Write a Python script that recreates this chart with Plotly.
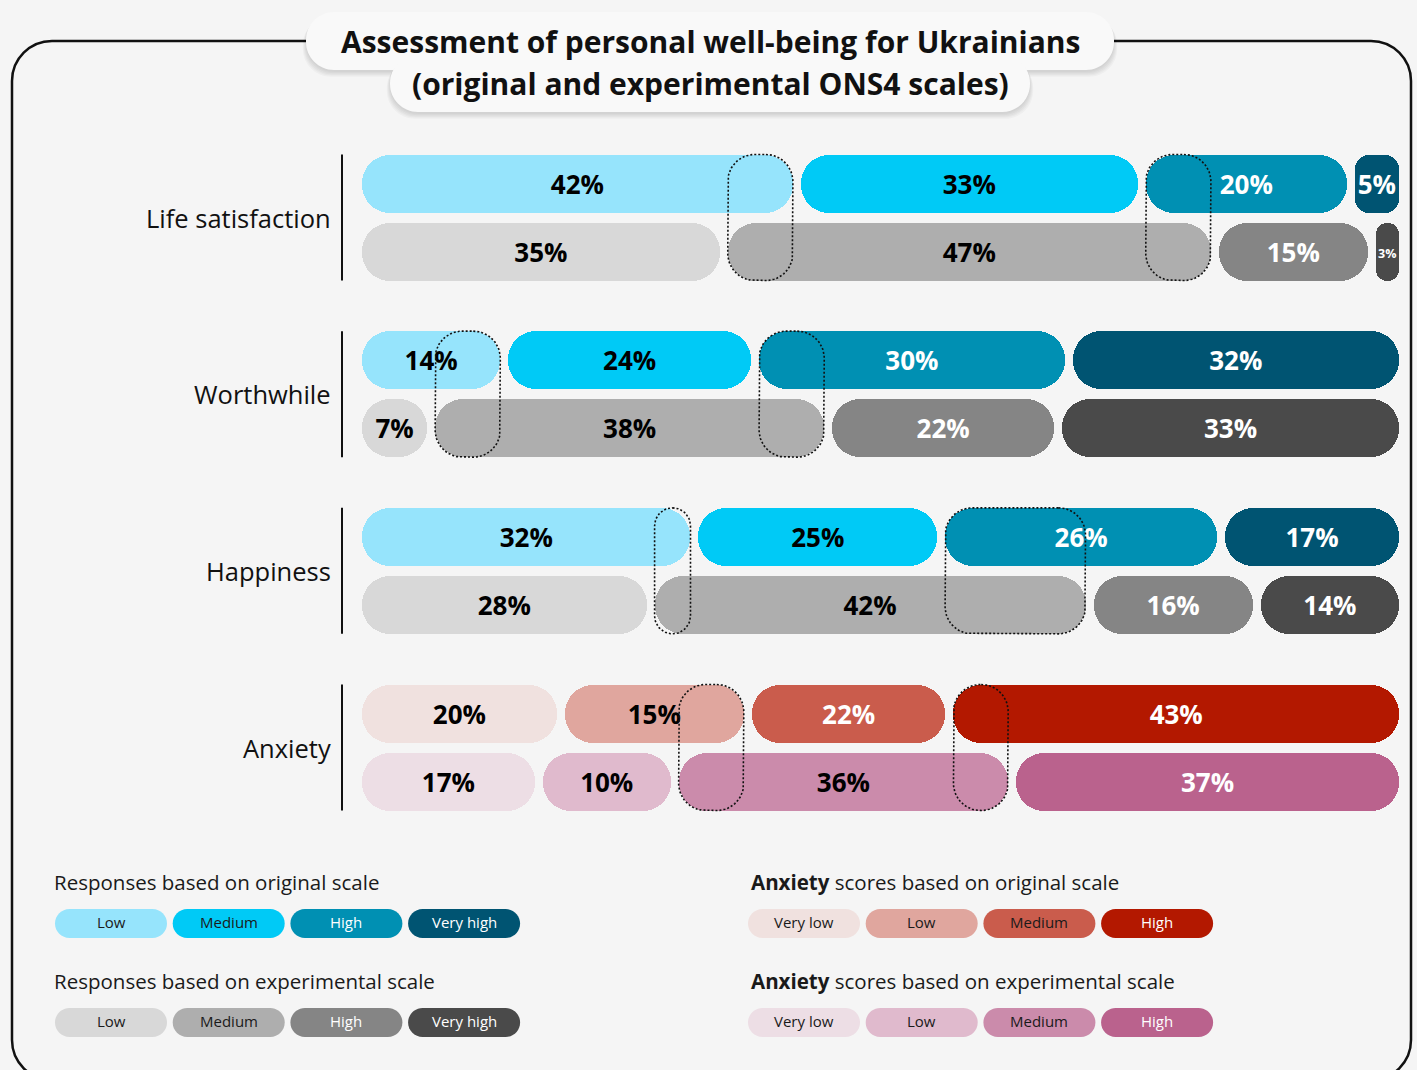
import numpy as np
import plotly.graph_objects as go

W, H = 1417, 1070
BG = "#F5F5F5"
FONT = "Open Sans"
INK = "#111111"

# ---------------- data ----------------
categories = ["Life satisfaction", "Worthwhile", "Happiness", "Anxiety"]

# percentages printed on the bars
orig_labels = [[42, 33, 20, 5], [14, 24, 30, 32], [32, 25, 26, 17], [20, 15, 22, 43]]
exp_labels = [[35, 47, 15, 3], [7, 38, 22, 33], [28, 42, 16, 14], [17, 10, 36, 37]]

# bar lengths as drawn in the picture (a few bars are not drawn to their label)
orig_len = [[42, 33, 20, 5], [14, 24, 30, 32], [32.2, 23.6, 26.8, 17.4], [19.4, 17.9, 19.3, 43.4]]
exp_len = [[35, 47, 15, 3], [7, 38, 22, 33], [28, 42, 16, 14], [17.3, 13.0, 32.3, 37.4]]

# category boundaries whose shift between the two scales is outlined
highlight = [[0, 1], [0, 1], [0, 1], [1, 2]]

scale_levels = ["Low", "Medium", "High", "Very high"]
anxiety_levels = ["Very low", "Low", "Medium", "High"]

orig_colors = ["#96E4FC", "#00CAF6", "#0090B3", "#005472"]
exp_colors = ["#D8D8D8", "#AEAEAE", "#858585", "#4A4A4A"]
anx_orig_colors = ["#F0E1DF", "#E0A69E", "#CA5C4C", "#B31800"]
anx_exp_colors = ["#EDDEE5", "#E0BACD", "#CB8BAB", "#BA628D"]

orig_text = ["black", "black", "white", "white"]
exp_text = ["black", "black", "white", "white"]
anx_orig_text = ["black", "black", "white", "white"]
anx_exp_text = ["black", "black", "black", "white"]

# ---------------- geometry ----------------
X0_PX, X1_PX = 358, 1403          # x = 0 .. 100 %
PX_X = (X1_PX - X0_PX) / 100.0
G0_PX, G_STEP = 217.5, 176.67     # group centre / spacing in px
Y_TOP_PX, Y_BOT_PX = 140, 830
y_top = (Y_TOP_PX - G0_PX) / G_STEP
y_bot = (Y_BOT_PX - G0_PX) / G_STEP
ROW_OFF = 34 / G_STEP
BAR_W = 58 / G_STEP
GAP = 4 / PX_X
TEXT_DY = 3.5 / G_STEP


def px2paper(x, y):
    return x / W, 1 - y / H


def rr_path(x0, y0, x1, y1, r):
    k = 0.5523 * r
    pts = [
        ("M", [(x0 + r, y0)]),
        ("L", [(x1 - r, y0)]),
        ("C", [(x1 - r + k, y0), (x1, y0 + r - k), (x1, y0 + r)]),
        ("L", [(x1, y1 - r)]),
        ("C", [(x1, y1 - r + k), (x1 - r + k, y1), (x1 - r, y1)]),
        ("L", [(x0 + r, y1)]),
        ("C", [(x0 + r - k, y1), (x0, y1 - r + k), (x0, y1 - r)]),
        ("L", [(x0, y0 + r)]),
        ("C", [(x0, y0 + r - k), (x0 + r - k, y0), (x0 + r, y0)]),
    ]
    s = ""
    for cmd, pp in pts:
        s += cmd + " ".join("%.5f,%.5f" % px2paper(a, b) for a, b in pp) + " "
    return s + "Z"


shapes = []
annotations = []


def add_rr(x0, y0, x1, y1, r, fill, line=None, lw=0):
    shapes.append(dict(type="path", xref="paper", yref="paper", path=rr_path(x0, y0, x1, y1, r),
                       fillcolor=fill, line=dict(color=line or "rgba(0,0,0,0)", width=lw),
                       layer="above"))


fig = go.Figure()

# ---------------- pills (floating bar traces) ----------------
big = dict(y=[], base=[], x=[], col=[])
small = dict(y=[], base=[], x=[], col=[])
T_x, T_y, T_txt, T_col, T_size = [], [], [], [], []
cums = {}

for g in range(4):
    anx = categories[g] == "Anxiety"
    rows = [
        (g - ROW_OFF, orig_len[g], orig_labels[g], anx_orig_colors if anx else orig_colors,
         anx_orig_text if anx else orig_text, "o"),
        (g + ROW_OFF, exp_len[g], exp_labels[g], anx_exp_colors if anx else exp_colors,
         anx_exp_text if anx else exp_text, "e"),
    ]
    for yrow, lens, labs, cols, tcols, key in rows:
        cum = np.concatenate([[0], np.cumsum(lens)])
        cum = cum * 100.0 / cum[-1]
        cums[(g, key)] = cum
        for k in range(4):
            a = cum[k] + GAP
            b = cum[k + 1] - GAP
            wpx = (b - a) * PX_X
            d = big if wpx > 56 else small
            d["y"].append(yrow); d["base"].append(a); d["x"].append(b - a); d["col"].append(cols[k])
            T_x.append((a + b) / 2); T_y.append(yrow + TEXT_DY); T_txt.append(f"{labs[k]}%")
            T_col.append(tcols[k])
            T_size.append(26 if wpx > 40 else 12.5)

for d, rad in [(big, 28), (small, 14)]:
    fig.add_trace(go.Bar(orientation="h", y=d["y"], base=d["base"], x=d["x"], width=BAR_W,
                         marker=dict(color=d["col"], line=dict(width=0), cornerradius=rad),
                         hoverinfo="skip", showlegend=False))

fig.add_trace(go.Scatter(x=T_x, y=T_y, mode="text", text=T_txt,
                         textfont=dict(family=FONT, size=T_size, color=T_col, weight="bold"),
                         textposition="middle center", hoverinfo="skip", showlegend=False))

# ---------------- dotted outlines ----------------
for g in range(4):
    co, ce = cums[(g, "o")], cums[(g, "e")]
    for k in highlight[g]:
        lo = min(co[k + 1], ce[k + 1]) + GAP
        hi = max(co[k + 1], ce[k + 1]) - GAP
        wpx = (hi - lo) * PX_X
        r = min(27, wpx / 2)
        rx, ry = r / PX_X, r / G_STEP
        yt = g - ROW_OFF - BAR_W / 2
        yb = g + ROW_OFF + BAR_W / 2
        xs, ys = [], []
        corners = [(hi - rx, yt + ry, -np.pi / 2, 0), (hi - rx, yb - ry, 0, np.pi / 2),
                   (lo + rx, yb - ry, np.pi / 2, np.pi), (lo + rx, yt + ry, np.pi, 1.5 * np.pi)]
        for cx, cy, t0, t1 in corners:
            t = np.linspace(t0, t1, 16)
            xs.extend(cx + rx * np.cos(t))
            ys.extend(cy + ry * np.sin(t))
        xs.append(xs[0]); ys.append(ys[0])
        fig.add_trace(go.Scatter(x=xs, y=ys, mode="lines",
                                 line=dict(color=INK, width=1.6, dash="2px,2px"),
                                 hoverinfo="skip", showlegend=False))

# ---------------- category labels & separators ----------------
for g, cat in enumerate(categories):
    annotations.append(dict(text=cat, xref="paper", yref="y", x=333 / W, y=g, xanchor="right",
                            yanchor="middle", showarrow=False,
                            font=dict(family=FONT, size=25.5, color=INK)))
    shapes.append(dict(type="line", xref="paper", yref="y", x0=342 / W, x1=342 / W,
                       y0=g - ROW_OFF - BAR_W / 2, y1=g + ROW_OFF + BAR_W / 2,
                       line=dict(color=INK, width=2), layer="above"))

# ---------------- frame & title ----------------
add_rr(12, 41, 1411, 1080, 40, "rgba(0,0,0,0)", line=INK, lw=2.5)


def shadowed_box(x0, y0, x1, y1, r):
    for i in range(5):
        add_rr(x0 - i * 0.8, y0 + 1 + i, x1 + i * 0.8, y1 + 2 + i * 1.2, r, "rgba(0,0,0,0.028)")
    add_rr(x0, y0, x1, y1, r, "#F9F9F9")


shadowed_box(306, 12, 1114, 70, 28)
shadowed_box(390, 55, 1030, 112, 28)
for txt, yy in [("Assessment of personal well-being for Ukrainians", 41),
                ("(original and experimental ONS4 scales)", 83)]:
    xx, pyy = px2paper(710, yy)
    annotations.append(dict(text=f"<b>{txt}</b>", xref="paper", yref="paper", x=xx, y=pyy,
                            xanchor="center", yanchor="middle", showarrow=False,
                            font=dict(family=FONT, size=30, color=INK)))

# ---------------- legends ----------------
legend_blocks = [
    (55, 52, 882, "Responses based on original scale", scale_levels, orig_colors, orig_text),
    (55, 52, 981, "Responses based on experimental scale", scale_levels, exp_colors, exp_text),
    (748, 749, 882, "<b>Anxiety</b> scores based on original scale", anxiety_levels, anx_orig_colors,
     ["black", "black", "black", "white"]),
    (748, 749, 981, "<b>Anxiety</b> scores based on experimental scale", anxiety_levels, anx_exp_colors,
     ["black", "black", "black", "white"]),
]
for lx, tx, ly, title, levels, cols, tcols in legend_blocks:
    xx, yy = px2paper(tx, ly)
    annotations.append(dict(text=title, xref="paper", yref="paper", x=xx, y=yy, xanchor="left",
                            yanchor="middle", showarrow=False,
                            font=dict(family=FONT, size=20.5, color="#1A1A1A")))
    for k, (lev, c, tc) in enumerate(zip(levels, cols, tcols)):
        x0 = lx + k * 117.7
        add_rr(x0, ly + 27, x0 + 112, ly + 56, 14.5, c)
        cx, cy = px2paper(x0 + 56, ly + 40.3)
        annotations.append(dict(text=lev, xref="paper", yref="paper", x=cx, y=cy, xanchor="center",
                                yanchor="middle", showarrow=False,
                                font=dict(family=FONT, size=15,
                                          color="#1A1A1A" if tc == "black" else "white")))

fig.update_layout(
    width=W, height=H, margin=dict(l=0, r=0, t=0, b=0),
    paper_bgcolor=BG, plot_bgcolor="rgba(0,0,0,0)",
    barmode="overlay", bargap=0,
    xaxis=dict(domain=[X0_PX / W, X1_PX / W], range=[0, 100], visible=False, fixedrange=True),
    yaxis=dict(domain=[(H - Y_BOT_PX) / H, (H - Y_TOP_PX) / H], range=[y_bot, y_top],
               visible=False, fixedrange=True),
    shapes=shapes, annotations=annotations, showlegend=False,
    font=dict(family=FONT),
)

fig.write_html("out.html", config={"displayModeBar": False},
               post_script="document.body.style.margin='0';document.body.style.overflow='hidden';"
                           "document.body.style.background='#F5F5F5';")
